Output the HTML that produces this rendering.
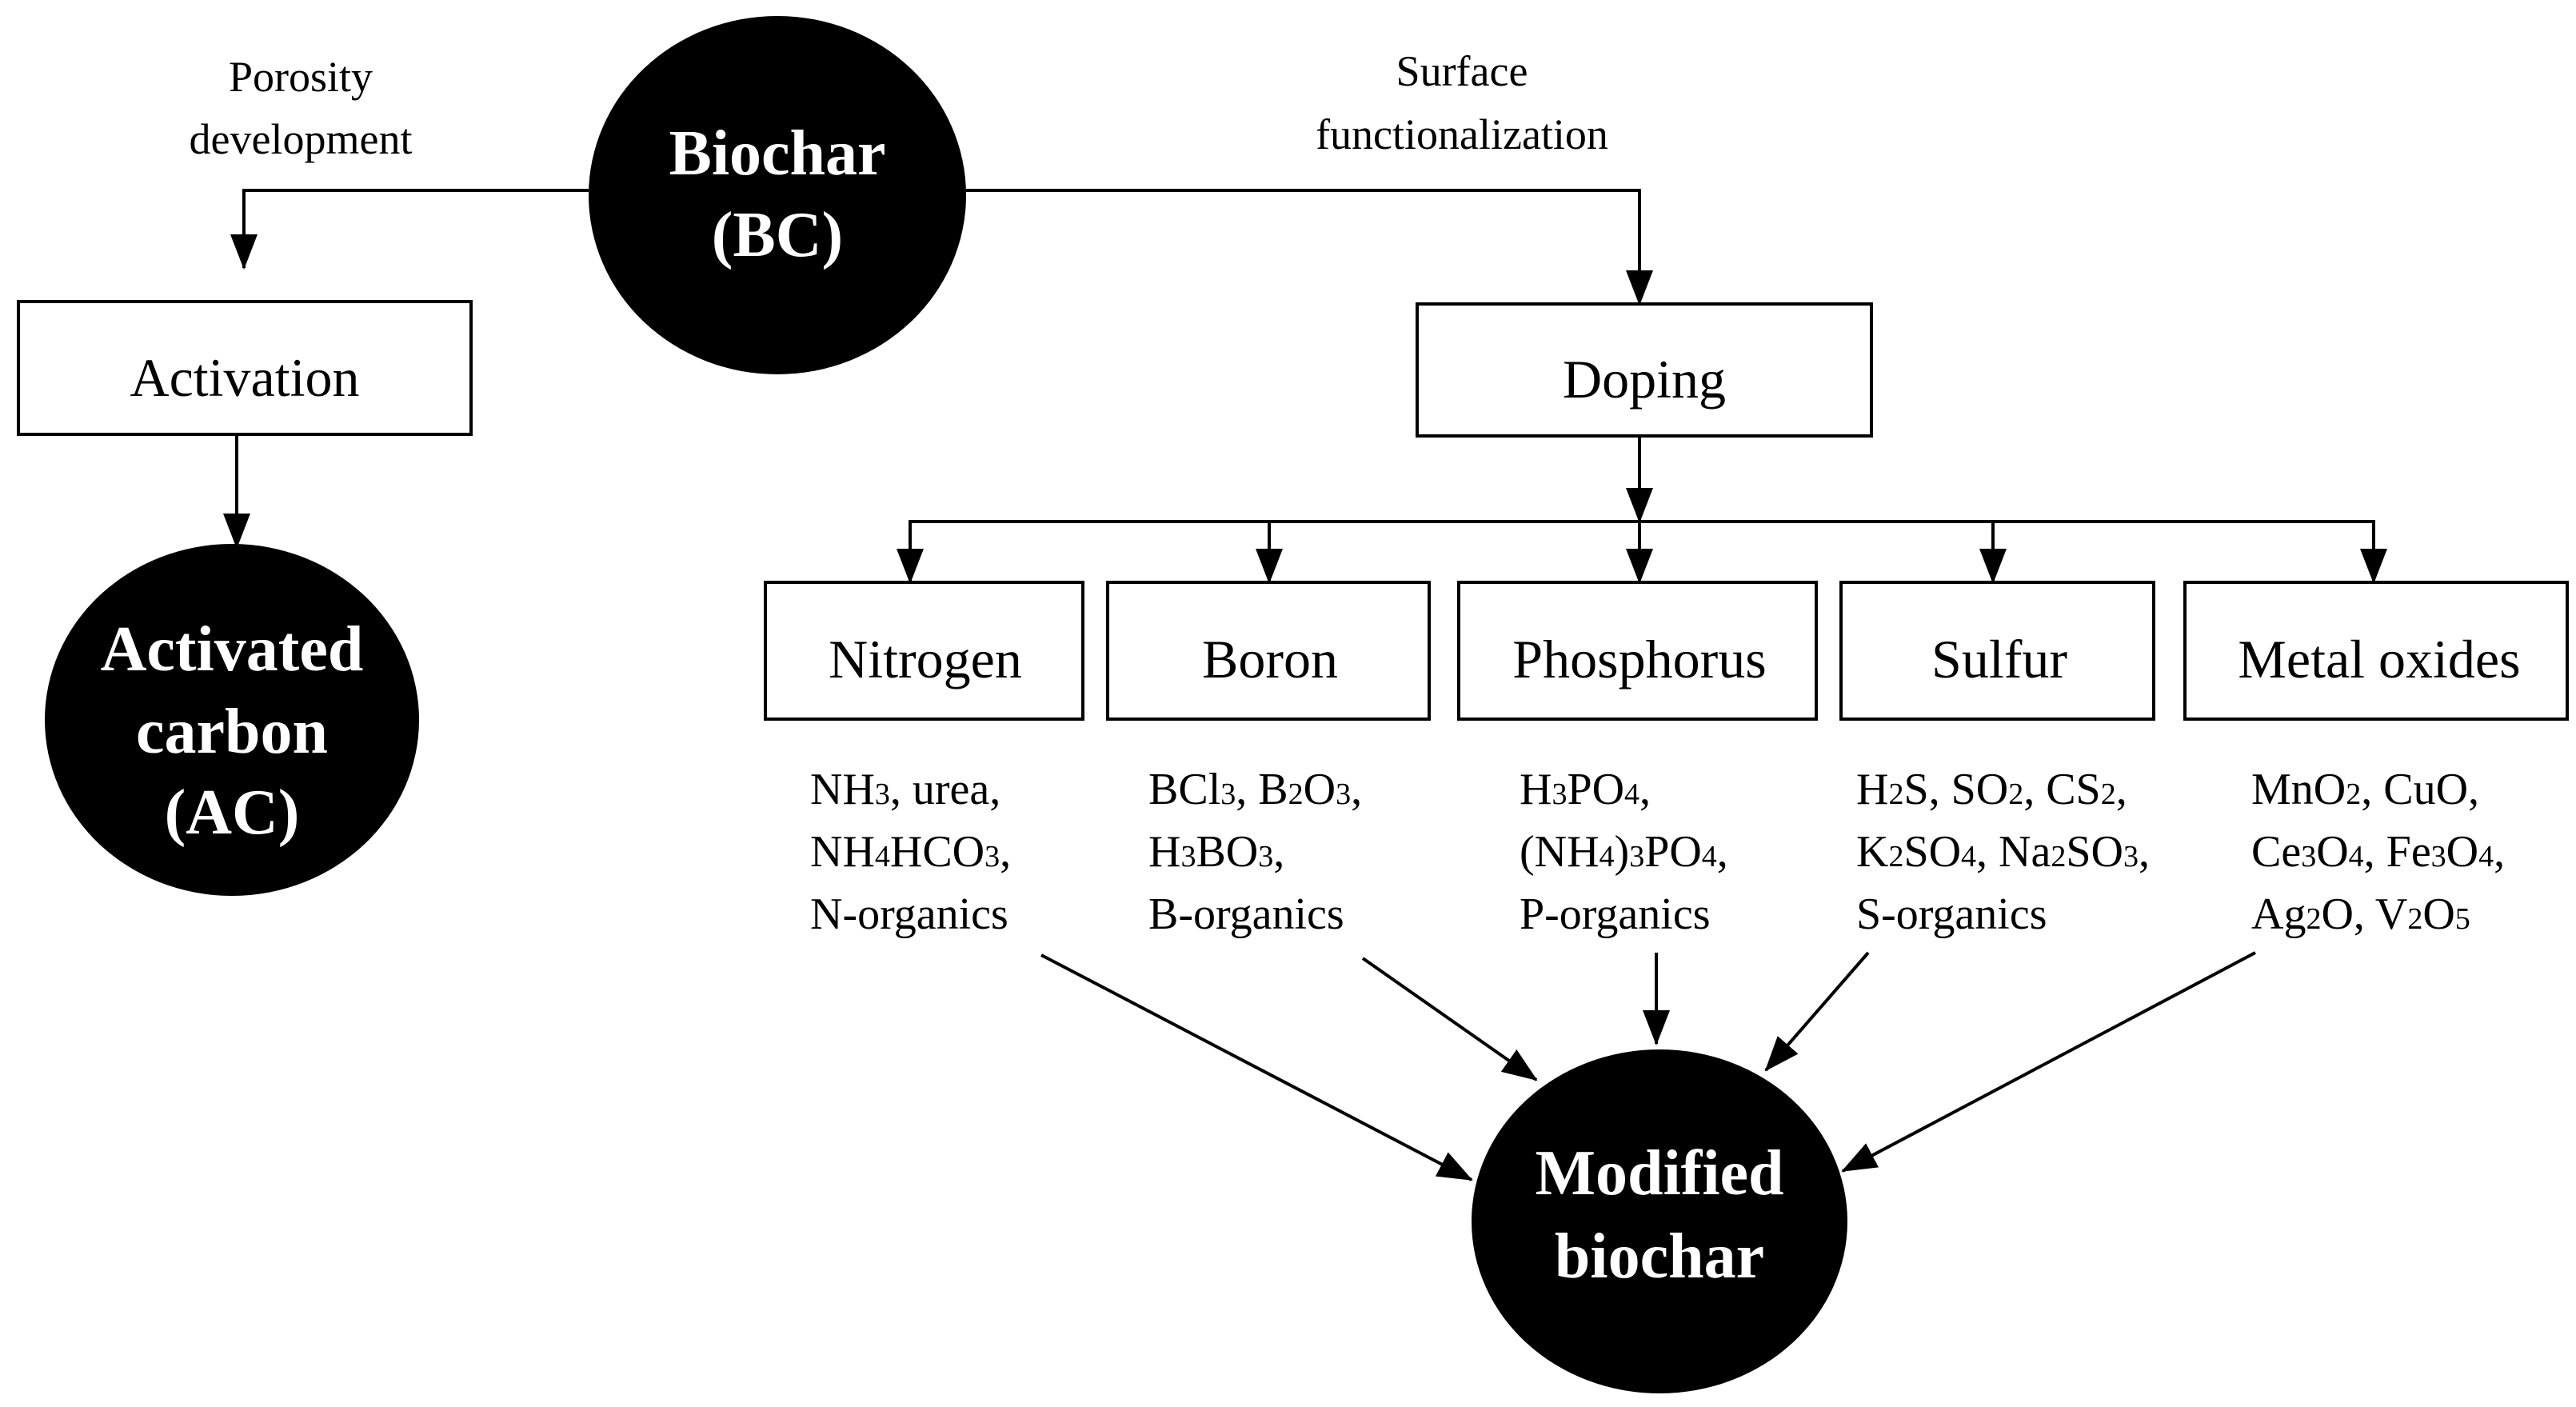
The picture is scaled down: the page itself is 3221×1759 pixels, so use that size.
<!DOCTYPE html>
<html><head><meta charset="utf-8"><style>
html,body{margin:0;padding:0;background:#fff;}
svg{display:block;}
text{font-family:"Liberation Serif",serif;}
.w{fill:#fff;font-weight:bold;font-size:80px;text-anchor:middle;}
.b{fill:#000;font-size:68px;text-anchor:middle;}
.l{fill:#000;font-size:54px;text-anchor:middle;}
.c{fill:#000;font-size:56px;}
.s{font-size:38px;}
</style></head><body>
<svg width="3221" height="1759" viewBox="0 0 3221 1759" xmlns="http://www.w3.org/2000/svg">
<defs>
<marker id="a" markerUnits="userSpaceOnUse" markerWidth="44" markerHeight="34" refX="42" refY="17" orient="auto">
<polygon points="0,0 44,17 0,34" fill="#000"/>
</marker>
</defs>
<g stroke="#000" stroke-width="4" fill="none">
<polyline points="736,238 305,238 305,335" marker-end="url(#a)"/>
<line x1="296" y1="543" x2="296" y2="684" marker-end="url(#a)"/>
<polyline points="1207,238 2050,238 2050,380" marker-end="url(#a)"/>
<line x1="2050" y1="545" x2="2050" y2="652" marker-end="url(#a)"/>
<line x1="1138" y1="652" x2="2968" y2="652"/>
<line x1="1138" y1="650" x2="1138" y2="728" marker-end="url(#a)"/>
<line x1="1587" y1="650" x2="1587" y2="728" marker-end="url(#a)"/>
<line x1="2050" y1="650" x2="2050" y2="728" marker-end="url(#a)"/>
<line x1="2492" y1="650" x2="2492" y2="728" marker-end="url(#a)"/>
<line x1="2968" y1="650" x2="2968" y2="728" marker-end="url(#a)"/>
<line x1="1302" y1="1194" x2="1840" y2="1475" marker-end="url(#a)"/>
<line x1="1704" y1="1198" x2="1921" y2="1350" marker-end="url(#a)"/>
<line x1="2071" y1="1191" x2="2071" y2="1305" marker-end="url(#a)"/>
<line x1="2336" y1="1191" x2="2208" y2="1338" marker-end="url(#a)"/>
<line x1="2820" y1="1191" x2="2304" y2="1464" marker-end="url(#a)"/>
<rect x="23" y="377" width="566" height="166" fill="#fff"/>
<rect x="1772" y="380" width="568" height="165" fill="#fff"/>
<rect x="957" y="728" width="397" height="171" fill="#fff"/>
<rect x="1385" y="728" width="402" height="171" fill="#fff"/>
<rect x="1824" y="728" width="447" height="171" fill="#fff"/>
<rect x="2302" y="728" width="391" height="171" fill="#fff"/>
<rect x="2732" y="728" width="478" height="171" fill="#fff"/>
</g>
<ellipse cx="972" cy="244" rx="236" ry="224" fill="#000"/>
<ellipse cx="290" cy="900" rx="234" ry="220" fill="#000"/>
<ellipse cx="2075" cy="1527" rx="235" ry="215" fill="#000"/>
<text class="w" x="972" y="218">Biochar</text>
<text class="w" x="972" y="320">(BC)</text>
<text class="w" x="290" y="838">Activated</text>
<text class="w" x="290" y="941">carbon</text>
<text class="w" x="290" y="1042">(AC)</text>
<text class="w" x="2075" y="1493">Modified</text>
<text class="w" x="2075" y="1597">biochar</text>
<text class="l" x="376" y="114">Porosity</text>
<text class="l" x="376" y="192">development</text>
<text class="l" x="1828" y="107">Surface</text>
<text class="l" x="1828" y="186">functionalization</text>
<text class="b" x="306" y="495">Activation</text>
<text class="b" x="2056" y="497">Doping</text>
<text class="b" x="1157" y="847">Nitrogen</text>
<text class="b" x="1588" y="847">Boron</text>
<text class="b" x="2050" y="847">Phosphorus</text>
<text class="b" x="2500" y="847">Sulfur</text>
<text class="b" x="2975" y="847">Metal oxides</text>
<text class="c" x="1013" y="1005">NH<tspan class="s">3</tspan>, urea,</text>
<text class="c" x="1013" y="1083">NH<tspan class="s">4</tspan>HCO<tspan class="s">3</tspan>,</text>
<text class="c" x="1013" y="1161">N-organics</text>
<text class="c" x="1436" y="1005">BCl<tspan class="s">3</tspan>, B<tspan class="s">2</tspan>O<tspan class="s">3</tspan>,</text>
<text class="c" x="1436" y="1083">H<tspan class="s">3</tspan>BO<tspan class="s">3</tspan>,</text>
<text class="c" x="1436" y="1161">B-organics</text>
<text class="c" x="1900" y="1005">H<tspan class="s">3</tspan>PO<tspan class="s">4</tspan>,</text>
<text class="c" x="1900" y="1083">(NH<tspan class="s">4</tspan>)<tspan class="s">3</tspan>PO<tspan class="s">4</tspan>,</text>
<text class="c" x="1900" y="1161">P-organics</text>
<text class="c" x="2321" y="1005">H<tspan class="s">2</tspan>S, SO<tspan class="s">2</tspan>, CS<tspan class="s">2</tspan>,</text>
<text class="c" x="2321" y="1083">K<tspan class="s">2</tspan>SO<tspan class="s">4</tspan>, Na<tspan class="s">2</tspan>SO<tspan class="s">3</tspan>,</text>
<text class="c" x="2321" y="1161">S-organics</text>
<text class="c" x="2815" y="1005">MnO<tspan class="s">2</tspan>, CuO,</text>
<text class="c" x="2815" y="1083">Ce<tspan class="s">3</tspan>O<tspan class="s">4</tspan>, Fe<tspan class="s">3</tspan>O<tspan class="s">4</tspan>,</text>
<text class="c" x="2815" y="1161">Ag<tspan class="s">2</tspan>O, V<tspan class="s">2</tspan>O<tspan class="s">5</tspan></text>
</svg>
</body></html>
